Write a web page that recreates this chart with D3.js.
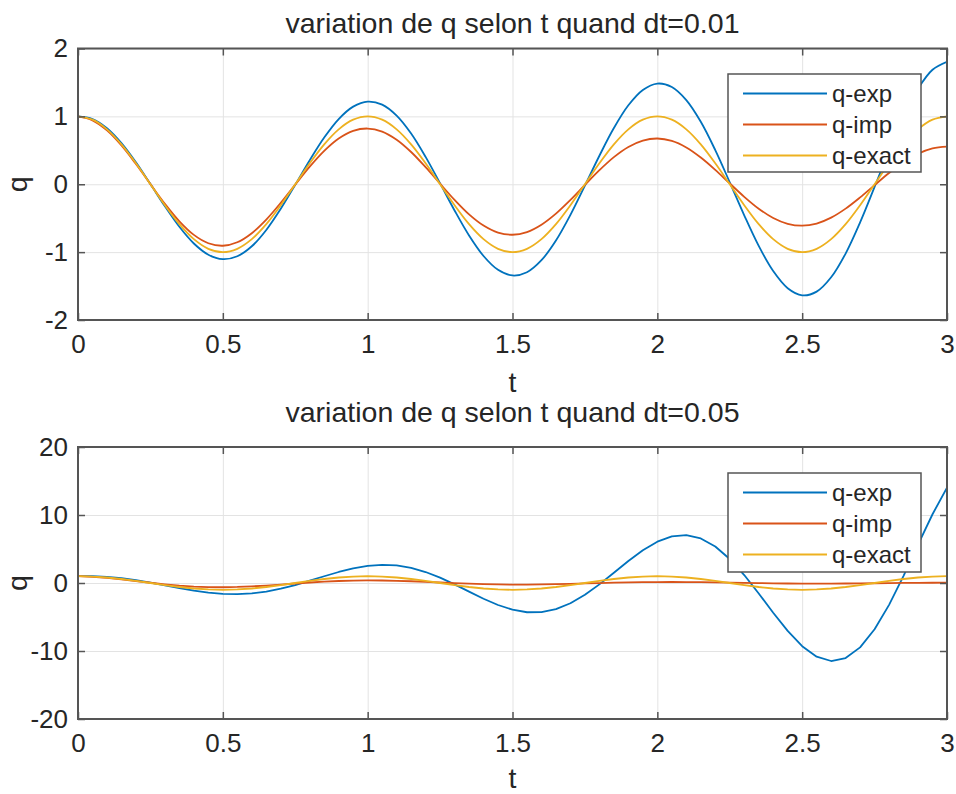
<!DOCTYPE html>
<html>
<head>
<meta charset="utf-8">
<script src="https://cdn.jsdelivr.net/npm/d3@7"></script>
<style>
  html, body { margin: 0; padding: 0; background: #ffffff; }
  svg { display: block; }
  text { font-family: "Liberation Sans", Arial, Helvetica, sans-serif; fill: #262626; }
</style>
</head>
<body>
<svg id="chart" width="956" height="794"></svg>
<script>
// ---------------- data ----------------
const tValues = [0,0.05,0.1,0.15,0.2,0.25,0.3,0.35,0.4,0.45,0.5,0.55,0.6,0.65,0.7,0.75,0.8,0.85,0.9,0.95,
  1,1.05,1.1,1.15,1.2,1.25,1.3,1.35,1.4,1.45,1.5,1.55,1.6,1.65,1.7,1.75,1.8,1.85,1.9,1.95,
  2,2.05,2.1,2.15,2.2,2.25,2.3,2.35,2.4,2.45,2.5,2.55,2.6,2.65,2.7,2.75,2.8,2.85,2.9,2.95,3];

// dt = 0.01 panel
const qExpTop = [1,0.961,0.826,0.606,0.323,0.002,-0.325,-0.627,-0.873,-1.038,-1.104,-1.061,-0.914,-0.673,-0.361,-0.007,0.354,0.688,0.961,1.144,
  1.218,1.173,1.011,0.747,0.403,0.013,-0.386,-0.755,-1.057,-1.261,-1.344,-1.296,-1.119,-0.829,-0.451,-0.020,0.420,0.828,1.163,1.389,
  1.483,1.432,1.239,0.920,0.503,0.029,-0.458,-0.909,-1.279,-1.531,-1.636,-1.582,-1.371,-1.021,-0.562,-0.039,0.498,0.997,1.408,1.687,1.805];
const qImpTop = [1,0.942,0.794,0.572,0.299,0.002,-0.289,-0.546,-0.746,-0.869,-0.906,-0.855,-0.721,-0.521,-0.274,-0.005,0.259,0.492,0.674,0.787,
  0.821,0.776,0.656,0.475,0.251,0.008,-0.231,-0.444,-0.609,-0.712,-0.744,-0.704,-0.596,-0.433,-0.231,-0.010,0.207,0.400,0.550,0.644,
  0.674,0.639,0.542,0.394,0.212,0.012,-0.185,-0.360,-0.497,-0.583,-0.611,-0.579,-0.492,-0.359,-0.194,-0.013,0.165,0.324,0.449,0.528,0.554];
const qExactTop = [1,0.951,0.809,0.588,0.309,0,-0.309,-0.588,-0.809,-0.951,-1,-0.951,-0.809,-0.588,-0.309,0,0.309,0.588,0.809,0.951,
  1,0.951,0.809,0.588,0.309,0,-0.309,-0.588,-0.809,-0.951,-1,-0.951,-0.809,-0.588,-0.309,0,0.309,0.588,0.809,0.951,
  1,0.951,0.809,0.588,0.309,0,-0.309,-0.588,-0.809,-0.951,-1,-0.951,-0.809,-0.588,-0.309,0,0.309,0.588,0.809,0.951,1];

// dt = 0.05 panel
const qExpBottom = [1,1.000,0.901,0.704,0.418,0.062,-0.335,-0.738,-1.108,-1.406,-1.593,-1.642,-1.534,-1.264,-0.842,-0.296,0.334,0.993,1.619,2.146,
  2.514,2.671,2.579,2.223,1.613,0.784,-0.205,-1.271,-2.317,-3.237,-3.929,-4.301,-4.286,-3.846,-2.982,-1.740,-0.203,1.506,3.234,4.814,
  6.075,6.861,7.047,6.556,5.370,3.536,1.172,-1.540,-4.368,-7.045,-9.290,-10.839,-11.472,-11.036,-9.466,-6.808,-3.215,1.049,5.631,10.109,14.032];
const qImpBottom = [1,0.910,0.747,0.531,0.287,0.039,-0.191,-0.382,-0.522,-0.603,-0.622,-0.583,-0.496,-0.372,-0.225,-0.072,0.074,0.200,0.297,0.359,
  0.383,0.370,0.325,0.255,0.168,0.075,-0.018,-0.100,-0.166,-0.211,-0.233,-0.232,-0.211,-0.172,-0.122,-0.065,-0.007,0.046,0.090,0.123,
  0.141,0.145,0.135,0.115,0.085,0.051,0.015,-0.018,-0.048,-0.070,-0.084,-0.089,-0.086,-0.075,-0.059,-0.038,-0.017,0.005,0.024,0.039,0.049];
const qExactBottom = [1,0.951,0.809,0.588,0.309,0,-0.309,-0.588,-0.809,-0.951,-1,-0.951,-0.809,-0.588,-0.309,0,0.309,0.588,0.809,0.951,
  1,0.951,0.809,0.588,0.309,0,-0.309,-0.588,-0.809,-0.951,-1,-0.951,-0.809,-0.588,-0.309,0,0.309,0.588,0.809,0.951,
  1,0.951,0.809,0.588,0.309,0,-0.309,-0.588,-0.809,-0.951,-1,-0.951,-0.809,-0.588,-0.309,0,0.309,0.588,0.809,0.951,1];

const seriesNames = ["q-exp", "q-imp", "q-exact"];
const seriesColors = ["#0072BD", "#D95319", "#EDB120"];
const xTickValues = [0, 0.5, 1, 1.5, 2, 2.5, 3];
const yTicksTop = [-2, -1, 0, 1, 2];
const yTicksBottom = [-20, -10, 0, 10, 20];
const titleTop = "variation de q selon t quand dt=0.01";
const titleBottom = "variation de q selon t quand dt=0.05";
const xLabel = "t";
const yLabel = "q";

// ---------------- drawing ----------------
const svg = d3.select("#chart");
const AXIS_COLOR = "#555555";
const GRID_COLOR = "#e3e3e3";
const TICK_FONT = 26;

function drawPanel(cfg) {
  const { left, right, top, bottom } = cfg.box;
  const x = d3.scaleLinear().domain([0, 3]).range([left, right]);
  const y = d3.scaleLinear().domain(cfg.yDomain).range([bottom, top]);
  const g = svg.append("g");
  const clipId = "clip" + cfg.id;
  svg.append("clipPath").attr("id", clipId).append("rect")
    .attr("x", left).attr("y", top).attr("width", right - left).attr("height", bottom - top);

  // grid
  const gx = g.append("g").attr("transform", `translate(0,${bottom})`)
    .call(d3.axisBottom(x).tickValues(xTickValues).tickSize(-(bottom - top)).tickFormat(""));
  const gy = g.append("g").attr("transform", `translate(${left},0)`)
    .call(d3.axisLeft(y).tickValues(cfg.yTicks).tickSize(-(right - left)).tickFormat(""));
  [gx, gy].forEach(a => {
    a.select(".domain").remove();
    a.selectAll(".tick line").attr("stroke", GRID_COLOR).attr("stroke-width", 1);
  });

  // data lines
  const series = [cfg.exp, cfg.imp, cfg.exact];
  const line = d3.line()
    .x((d, i) => x(tValues[i]))
    .y(d => y(d))
    .curve(cfg.curve);
  const lg = g.append("g").attr("clip-path", `url(#${clipId})`);
  series.forEach((s, k) => {
    lg.append("path").datum(s)
      .attr("fill", "none")
      .attr("stroke", seriesColors[k])
      .attr("stroke-width", 1.8)
      .attr("stroke-linejoin", "round")
      .attr("d", line);
  });

  // axes with inward ticks
  const axB = g.append("g").attr("transform", `translate(0,${bottom})`)
    .call(d3.axisBottom(x).tickValues(xTickValues).tickSize(-7).tickSizeOuter(0)
      .tickPadding(15).tickFormat(d => String(d)));
  const axT = g.append("g").attr("transform", `translate(0,${top})`)
    .call(d3.axisTop(x).tickValues(xTickValues).tickSize(-7).tickSizeOuter(0).tickFormat(""));
  const axL = g.append("g").attr("transform", `translate(${left},0)`)
    .call(d3.axisLeft(y).tickValues(cfg.yTicks).tickSize(-7).tickSizeOuter(0)
      .tickPadding(10).tickFormat(d => String(d)));
  const axR = g.append("g").attr("transform", `translate(${right},0)`)
    .call(d3.axisRight(y).tickValues(cfg.yTicks).tickSize(-7).tickSizeOuter(0).tickFormat(""));
  [axB, axT, axL, axR].forEach(a => {
    a.select(".domain").remove();
    a.selectAll(".tick line").attr("stroke", AXIS_COLOR).attr("stroke-width", 1.5);
    a.selectAll(".tick text").attr("fill", "#262626")
      .style("font-size", TICK_FONT + "px")
      .style("font-family", '"Liberation Sans", Arial, sans-serif');
  });

  // box
  g.append("rect").attr("x", left).attr("y", top)
    .attr("width", right - left).attr("height", bottom - top)
    .attr("fill", "none").attr("stroke", AXIS_COLOR).attr("stroke-width", 2);

  // title and labels
  g.append("text").attr("x", (left + right) / 2).attr("y", cfg.titleY)
    .attr("text-anchor", "middle").style("font-size", "28.5px").text(cfg.title);
  g.append("text").attr("x", (left + right) / 2).attr("y", cfg.xLabelY)
    .attr("text-anchor", "middle").style("font-size", "28.5px").text(xLabel);
  g.append("text")
    .attr("transform", `translate(27,${(top + bottom) / 2}) rotate(-90)`)
    .attr("text-anchor", "middle").style("font-size", "28.5px").text(yLabel);

  // legend
  const L = cfg.legend;
  const lgd = g.append("g");
  lgd.append("rect").attr("x", L.x).attr("y", L.y).attr("width", L.w).attr("height", L.h)
    .attr("fill", "#ffffff").attr("stroke", AXIS_COLOR).attr("stroke-width", 1.5);
  seriesNames.forEach((name, k) => {
    const cy = L.y + 19.5 + k * 31;
    lgd.append("line").attr("x1", L.x + 15).attr("x2", L.x + 99)
      .attr("y1", cy).attr("y2", cy)
      .attr("stroke", seriesColors[k]).attr("stroke-width", 1.8);
    lgd.append("text").attr("x", L.x + 104).attr("y", cy).attr("dy", "0.35em")
      .style("font-size", "24px").text(name);
  });
}

drawPanel({
  id: "top",
  box: { left: 78, right: 947, top: 48.5, bottom: 320 },
  yDomain: [-2, 2], yTicks: yTicksTop,
  exp: qExpTop, imp: qImpTop, exact: qExactTop,
  curve: d3.curveCatmullRom.alpha(0.5),
  title: titleTop, titleY: 33, xLabelY: 392,
  legend: { x: 728, y: 74, w: 193, h: 98 }
});

drawPanel({
  id: "bottom",
  box: { left: 78, right: 947, top: 447, bottom: 719 },
  yDomain: [-20, 20], yTicks: yTicksBottom,
  exp: qExpBottom, imp: qImpBottom, exact: qExactBottom,
  curve: d3.curveLinear,
  title: titleBottom, titleY: 422, xLabelY: 788,
  legend: { x: 728, y: 473, w: 193, h: 99 }
});
</script>
</body>
</html>
